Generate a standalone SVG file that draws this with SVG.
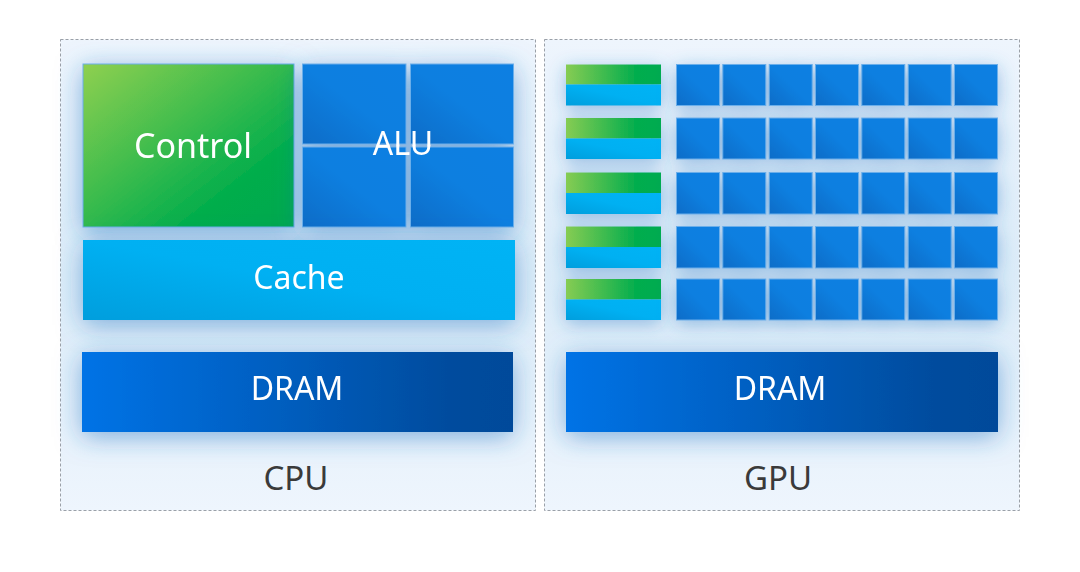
<svg xmlns="http://www.w3.org/2000/svg" width="1080" height="572" viewBox="0 0 1080 572">
<defs>
<linearGradient id="gCtl" x1="0" y1="0" x2="1" y2="1"><stop offset="0" stop-color="#8fd050"/><stop offset="0.75" stop-color="#00ad4c"/><stop offset="1" stop-color="#00a84e"/></linearGradient>
<linearGradient id="gCtlS" x1="0" y1="0" x2="1" y2="0"><stop offset="0" stop-color="#86cc52"/><stop offset="0.75" stop-color="#00ad4e"/><stop offset="1" stop-color="#00ab50"/></linearGradient>
<linearGradient id="gAlu" x1="0" y1="1" x2="1" y2="0"><stop offset="0" stop-color="#0c6cc7"/><stop offset="0.5" stop-color="#107fe0"/><stop offset="1" stop-color="#117fe2"/></linearGradient>
<linearGradient id="gCache" x1="0" y1="1" x2="1" y2="0"><stop offset="0" stop-color="#009edd"/><stop offset="0.5" stop-color="#00b0f2"/><stop offset="1" stop-color="#00b3f5"/></linearGradient>
<linearGradient id="gDram" x1="0" y1="0" x2="1" y2="0"><stop offset="0" stop-color="#0073e6"/><stop offset="0.85" stop-color="#004c9e"/><stop offset="1" stop-color="#004a9a"/></linearGradient>
<linearGradient id="gBox" x1="0" y1="0" x2="0" y2="1"><stop offset="0" stop-color="#eef5fd"/><stop offset="0.5" stop-color="#dcecf8"/><stop offset="1" stop-color="#eef5fd"/></linearGradient>
<filter id="glow" x="-30%" y="-60%" width="160%" height="220%"><feDropShadow dx="0" dy="5" stdDeviation="13" flood-color="#2a78c4" flood-opacity="0.55"/></filter>
<filter id="glowS" x="-30%" y="-40%" width="160%" height="180%"><feDropShadow dx="0" dy="4" stdDeviation="9" flood-color="#2a78c4" flood-opacity="0.45"/></filter>
</defs>
<style>
.box{fill:url(#gBox);stroke:#9aa0a8;stroke-width:1;stroke-dasharray:3 2}
.cell{stroke:#6aaeea;stroke-width:1}
.alu{fill:url(#gAlu)}
.lbl{font-family:"Noto Sans","Open Sans",sans-serif;fill:#ffffff;text-anchor:middle}
.cap{font-family:"Noto Sans","Open Sans",sans-serif;fill:#3a3a3a;text-anchor:middle;font-size:33px}
</style>
<rect width="1080" height="572" fill="#ffffff"/>
<g id="cpu">
<rect class="box" x="60.5" y="39.5" width="475" height="471"/>
<g id="cpu-control" filter="url(#glow)">
<rect x="83" y="64" width="211" height="163" fill="url(#gCtl)" class="cell" stroke="#7cc870"/>
<text class="lbl" x="193" y="158" font-size="34">Control</text>
</g>
<g id="cpu-alu" filter="url(#glow)">
<rect class="alu cell" x="302.5" y="64" width="103.5" height="80"/>
<rect class="alu cell" x="410.5" y="64" width="103" height="80"/>
<rect class="alu cell" x="302.5" y="147" width="103.5" height="80"/>
<rect class="alu cell" x="410.5" y="147" width="103" height="80"/>
<text class="lbl" x="403" y="155" font-size="32">ALU</text>
</g>
<g id="cpu-cache" filter="url(#glow)">
<rect x="83" y="240" width="432" height="80" fill="url(#gCache)"/>
<text class="lbl" x="299" y="289" font-size="32">Cache</text>
</g>
<g id="cpu-dram" filter="url(#glow)">
<rect x="82" y="352" width="431" height="80" fill="url(#gDram)"/>
<text class="lbl" x="297" y="400" font-size="32">DRAM</text>
</g>
<text class="cap" x="296" y="490">CPU</text>
</g>
<g id="gpu">
<rect class="box" x="544.5" y="39.5" width="475" height="471"/>
<g id="gpu-control-cache" filter="url(#glowS)">
<rect x="566" y="64.5" width="95" height="20" fill="url(#gCtlS)"/><rect x="566" y="84.5" width="95" height="21" fill="url(#gCache)"/>
<rect x="566" y="118" width="95" height="20.5" fill="url(#gCtlS)"/><rect x="566" y="138.5" width="95" height="20.5" fill="url(#gCache)"/>
<rect x="566" y="172.5" width="95" height="20.5" fill="url(#gCtlS)"/><rect x="566" y="193" width="95" height="21" fill="url(#gCache)"/>
<rect x="566" y="226.5" width="95" height="20.5" fill="url(#gCtlS)"/><rect x="566" y="247" width="95" height="21" fill="url(#gCache)"/>
<rect x="566" y="279" width="95" height="20.5" fill="url(#gCtlS)"/><rect x="566" y="299.5" width="95" height="20.5" fill="url(#gCache)"/>
</g>
<g id="gpu-alu" filter="url(#glowS)">
<g id="r1">
<rect class="alu cell" x="676.5" y="64.5" width="43" height="41"/><rect class="alu cell" x="722.8" y="64.5" width="43" height="41"/><rect class="alu cell" x="769.2" y="64.5" width="43" height="41"/><rect class="alu cell" x="815.5" y="64.5" width="43" height="41"/><rect class="alu cell" x="861.8" y="64.5" width="43" height="41"/><rect class="alu cell" x="908.2" y="64.5" width="43" height="41"/><rect class="alu cell" x="954.5" y="64.5" width="43" height="41"/>
</g>
<g id="r2">
<rect class="alu cell" x="676.5" y="118" width="43" height="41"/><rect class="alu cell" x="722.8" y="118" width="43" height="41"/><rect class="alu cell" x="769.2" y="118" width="43" height="41"/><rect class="alu cell" x="815.5" y="118" width="43" height="41"/><rect class="alu cell" x="861.8" y="118" width="43" height="41"/><rect class="alu cell" x="908.2" y="118" width="43" height="41"/><rect class="alu cell" x="954.5" y="118" width="43" height="41"/>
</g>
<g id="r3">
<rect class="alu cell" x="676.5" y="172.5" width="43" height="41.5"/><rect class="alu cell" x="722.8" y="172.5" width="43" height="41.5"/><rect class="alu cell" x="769.2" y="172.5" width="43" height="41.5"/><rect class="alu cell" x="815.5" y="172.5" width="43" height="41.5"/><rect class="alu cell" x="861.8" y="172.5" width="43" height="41.5"/><rect class="alu cell" x="908.2" y="172.5" width="43" height="41.5"/><rect class="alu cell" x="954.5" y="172.5" width="43" height="41.5"/>
</g>
<g id="r4">
<rect class="alu cell" x="676.5" y="226.5" width="43" height="41.5"/><rect class="alu cell" x="722.8" y="226.5" width="43" height="41.5"/><rect class="alu cell" x="769.2" y="226.5" width="43" height="41.5"/><rect class="alu cell" x="815.5" y="226.5" width="43" height="41.5"/><rect class="alu cell" x="861.8" y="226.5" width="43" height="41.5"/><rect class="alu cell" x="908.2" y="226.5" width="43" height="41.5"/><rect class="alu cell" x="954.5" y="226.5" width="43" height="41.5"/>
</g>
<g id="r5">
<rect class="alu cell" x="676.5" y="279" width="43" height="41"/><rect class="alu cell" x="722.8" y="279" width="43" height="41"/><rect class="alu cell" x="769.2" y="279" width="43" height="41"/><rect class="alu cell" x="815.5" y="279" width="43" height="41"/><rect class="alu cell" x="861.8" y="279" width="43" height="41"/><rect class="alu cell" x="908.2" y="279" width="43" height="41"/><rect class="alu cell" x="954.5" y="279" width="43" height="41"/>
</g>
</g>
<g id="gpu-dram" filter="url(#glow)">
<rect x="566" y="352" width="432" height="80" fill="url(#gDram)"/>
<text class="lbl" x="780" y="400" font-size="32">DRAM</text>
</g>
<text class="cap" x="778" y="490">GPU</text>
</g>
<g id="connectors"/>
</svg>
